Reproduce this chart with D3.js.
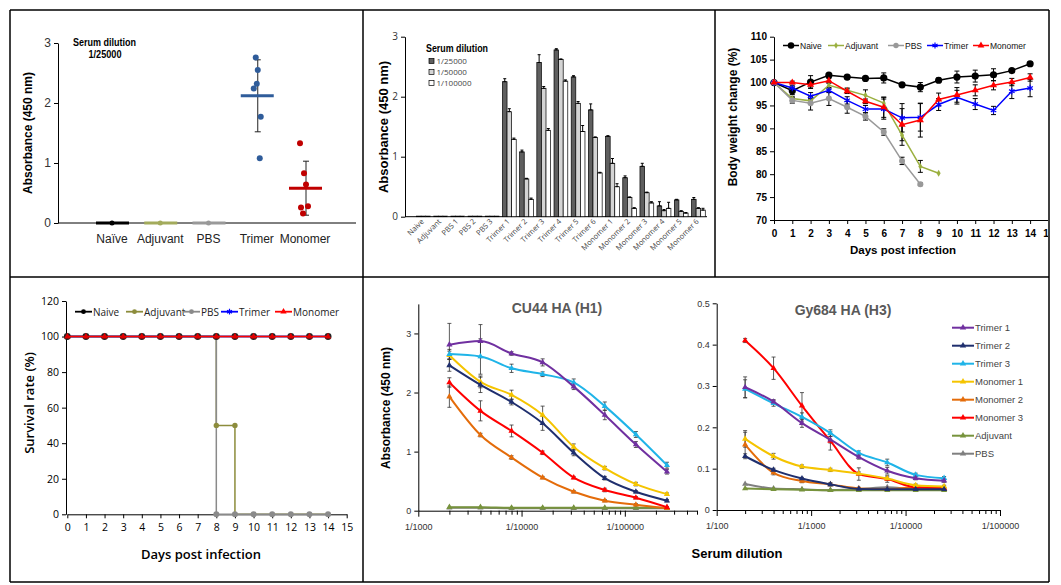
<!DOCTYPE html>
<html><head><meta charset="utf-8">
<script src="https://cdn.jsdelivr.net/npm/d3@7"></script>
<style>body{margin:0;background:#fff}svg{display:block}</style>
</head><body><svg id="c" width="1061" height="585"></svg>
<script>
// ================= DATA =================
// Panel A : dot plot, serum dilution 1/25000
const groupsA = ["Naïve", "Adjuvant", "PBS", "Trimer", "Monomer"];
const meansA = [0, 0, 0, 2.12, 0.58];
const sdA = [0, 0, 0, 0.6, 0.45];
const trimerPointsA = [2.76, 2.55, 2.32, 2.24, 1.77, 1.08];
const monomerPointsA = [1.33, 0.83, 0.64, 0.28, 0.26, 0.16];

// Panel B : grouped bars
const catsB = ["Naive", "Adjuvant", "PBS 1", "PBS 2", "PBS 3", "Trimer 1", "Trimer 2", "Trimer 3", "Trimer 4", "Trimer 5", "Trimer 6", "Monomer 1", "Monomer 2", "Monomer 3", "Monomer 4", "Monomer 5", "Monomer 6"];
const dilLabelsB = ["1/25000", "1/50000", "1/100000"];
const d25000 = [0.01, 0.01, 0.01, 0.01, 0.01, 2.25, 1.08, 2.57, 2.78, 2.33, 1.78, 1.34, 0.65, 0.84, 0.18, 0.28, 0.29];
const d50000 = [0.01, 0.01, 0.01, 0.01, 0.01, 1.75, 0.63, 2.14, 2.62, 1.89, 1.32, 0.89, 0.32, 0.40, 0.10, 0.09, 0.14];
const d100000 = [0.01, 0.01, 0.01, 0.01, 0.01, 1.29, 0.29, 1.44, 2.26, 1.42, 0.73, 0.50, 0.14, 0.23, 0.14, 0.06, 0.11];
const e25000 = [0, 0, 0, 0, 0, 0.05, 0.03, 0.13, 0.02, 0.02, 0.1, 0.01, 0.03, 0.05, 0.07, 0.01, 0.03];
const e50000 = [0, 0, 0, 0, 0, 0.05, 0.01, 0.03, 0.01, 0.03, 0.01, 0.08, 0.01, 0.01, 0.02, 0.01, 0.01];
const e100000 = [0, 0, 0, 0, 0, 0.02, 0.02, 0.03, 0.02, 0.1, 0.01, 0.05, 0.01, 0.02, 0.1, 0.01, 0.03];

// Panel C : body weight
const daysC = [0, 1, 2, 3, 4, 5, 6, 7, 8, 9, 10, 11, 12, 13, 14];
const naiveW = [100, 98.2, 100.1, 101.6, 101.2, 100.9, 101.0, 99.5, 99.0, 100.5, 101.2, 101.4, 101.7, 102.6, 104.1];
const naiveWErr = [0, 0.8, 1.4, 0.4, 0.4, 0.4, 1.1, 0.4, 1.0, 0.5, 1.3, 1.3, 1.3, 0.4, 0.4];
const adjuvantW = [100, 96.5, 96.0, 99.4, 98.3, 97.2, 95.5, 88.5, 81.7, 80.2];
const adjuvantWErr = [0, 0.5, 0.5, 0.5, 0.5, 1.2, 1.3, 2.2, 1.3, 0];
const pbsW = [100, 96.1, 95.5, 96.5, 94.6, 92.6, 89.2, 82.9, 77.8];
const pbsWErr = [0, 0.6, 1.5, 1.5, 1.3, 0.8, 0.7, 0.8, 0.3];
const trimerW = [100, 98.8, 97.0, 98.3, 96.1, 94.2, 94.2, 92.3, 92.4, 95.2, 96.8, 95.3, 93.9, 98.1, 98.8];
const trimerWErr = [0, 0.5, 0.8, 0.5, 0.8, 0.8, 2.2, 3.1, 3.0, 1.3, 1.5, 1.2, 0.9, 1.6, 1.9];
const monomerW = [100, 100, 99.5, 100.4, 98.1, 95.9, 94.6, 90.8, 91.8, 96.3, 97.3, 98.3, 99.4, 100.1, 101.1];
const monomerWErr = [0, 0.3, 0.5, 0.5, 0.5, 0.5, 2.2, 3.5, 3.7, 1.4, 1.6, 1.2, 1.0, 0.8, 0.8];

// Panel D : survival
const survDays = [0, 1, 2, 3, 4, 5, 6, 7, 8, 9, 10, 11, 12, 13, 14];
const naiveS = [100, 100, 100, 100, 100, 100, 100, 100, 100, 100, 100, 100, 100, 100, 100];
const adjDaysS = [0, 1, 2, 3, 4, 5, 6, 7, 8, 8, 9, 9, 10, 11, 12, 13, 14];
const adjuvantS = [100, 100, 100, 100, 100, 100, 100, 100, 100, 50, 50, 0, 0, 0, 0, 0, 0];
const pbsDaysS = [0, 1, 2, 3, 4, 5, 6, 7, 8, 8, 9, 10, 11, 12, 13, 14];
const pbsS = [100, 100, 100, 100, 100, 100, 100, 100, 100, 0, 0, 0, 0, 0, 0, 0];
const trimerS = [100, 100, 100, 100, 100, 100, 100, 100, 100, 100, 100, 100, 100, 100, 100];
const monomerS = [100, 100, 100, 100, 100, 100, 100, 100, 100, 100, 100, 100, 100, 100, 100];

// Panel E/F : ELISA titration curves
const seriesNames = ["Trimer 1", "Trimer 2", "Trimer 3", "Monomer 1", "Monomer 2", "Monomer 3", "Adjuvant", "PBS"];
const dilCU44 = [2000, 4000, 8000, 16000, 32000, 64000, 128000, 256000];
const cu44 = {
  "Trimer 1": [2.81, 2.87, 2.66, 2.51, 2.10, 1.62, 1.12, 0.66],
  "Trimer 2": [2.46, 2.13, 1.84, 1.48, 0.98, 0.55, 0.32, 0.17],
  "Trimer 3": [2.65, 2.61, 2.41, 2.31, 2.17, 1.77, 1.29, 0.77],
  "Monomer 1": [2.63, 2.18, 1.96, 1.62, 1.08, 0.72, 0.45, 0.28],
  "Monomer 2": [1.93, 1.28, 0.90, 0.56, 0.32, 0.17, 0.10, 0.04],
  "Monomer 3": [2.17, 1.69, 1.35, 0.98, 0.56, 0.35, 0.22, 0.06],
  "Adjuvant": [0.06, 0.06, 0.05, 0.05, 0.05, 0.05, 0.05, 0.05],
  "PBS": [0.05, 0.05, 0.04, 0.04, 0.04, 0.04, 0.04, 0.04]
};
const cu44Err = {
  "Trimer 1": [0.36, 0.28, 0.03, 0.06, 0.05, 0.08, 0.05, 0.04],
  "Trimer 2": [0.1, 0.13, 0.05, 0.12, 0.05, 0.03, 0.02, 0.02],
  "Trimer 3": [0.08, 0.3, 0.07, 0.04, 0.06, 0.07, 0.05, 0.05],
  "Monomer 1": [0.07, 0.1, 0.08, 0.15, 0.05, 0.03, 0.03, 0.02],
  "Monomer 2": [0.18, 0.03, 0.03, 0.02, 0.02, 0.02, 0.02, 0.01],
  "Monomer 3": [0.08, 0.17, 0.1, 0.03, 0.02, 0.03, 0.02, 0.01],
  "Adjuvant": [0, 0, 0, 0, 0, 0, 0, 0],
  "PBS": [0, 0, 0, 0, 0, 0, 0, 0]
};
const dilGy684 = [200, 400, 800, 1600, 3200, 6400, 12800, 25600];
const gy684 = {
  "Trimer 1": [0.297, 0.262, 0.210, 0.170, 0.128, 0.095, 0.077, 0.071],
  "Trimer 2": [0.130, 0.097, 0.076, 0.062, 0.051, 0.050, 0.050, 0.050],
  "Trimer 3": [0.293, 0.258, 0.225, 0.186, 0.138, 0.115, 0.085, 0.077],
  "Monomer 1": [0.172, 0.130, 0.105, 0.097, 0.088, 0.076, 0.060, 0.057],
  "Monomer 2": [0.158, 0.090, 0.070, 0.062, 0.052, 0.050, 0.055, 0.050],
  "Monomer 3": [0.410, 0.343, 0.252, 0.167, 0.087, 0.075, 0.055, 0.053],
  "Adjuvant": [0.052, 0.050, 0.049, 0.048, 0.048, 0.048, 0.048, 0.048],
  "PBS": [0.063, 0.052, 0.050, 0.048, 0.050, 0.055, 0.050, 0.050]
};
const gy684Err = {
  "Trimer 1": [0.025, 0.005, 0.01, 0.008, 0.005, 0.008, 0.004, 0.004],
  "Trimer 2": [0.006, 0.004, 0.003, 0.003, 0.002, 0.002, 0.002, 0.002],
  "Trimer 3": [0.022, 0.007, 0.01, 0.008, 0.005, 0.008, 0.004, 0.004],
  "Monomer 1": [0.02, 0.007, 0.004, 0.004, 0.004, 0.004, 0.003, 0.003],
  "Monomer 2": [0.03, 0.005, 0.004, 0.004, 0.003, 0.003, 0.003, 0.003],
  "Monomer 3": [0.005, 0.027, 0.032, 0.022, 0.015, 0.008, 0.005, 0.005],
  "Adjuvant": [0, 0, 0, 0, 0, 0, 0, 0],
  "PBS": [0, 0, 0, 0, 0, 0, 0, 0]
};
const elisaColors = ["#7030a0", "#1f2f6e", "#1fb4e8", "#f5c400", "#e46c0a", "#ff0000", "#77933c", "#7f7f7f"];

// ================= DRAWING =================
const SANS = "'Liberation Sans', Arial, sans-serif";
const OPEN = "'Open Sans', 'Noto Sans', sans-serif";
const svg = d3.select("#c");
svg.append("rect").attr("width", 1061).attr("height", 585).attr("fill", "#fff");

function styleAxis(g, fam, size, weight, color) {
  g.attr("font-family", fam).attr("font-size", size).attr("font-weight", weight);
  g.select(".domain").attr("stroke", "#000").attr("stroke-width", 1);
  g.selectAll(".tick line").attr("stroke", "#000");
  g.selectAll(".tick text").attr("fill", color || "#000");
}
function txt(g, x, y, s, o) {
  o = o || {};
  const t = g.append("text").attr("x", x).attr("y", y).text(s)
    .attr("font-family", o.fam || SANS).attr("font-size", o.size || 12)
    .attr("font-weight", o.weight || "normal").attr("fill", o.fill || "#000")
    .attr("text-anchor", o.anchor || "start");
  if (o.rot) t.attr("transform", `rotate(${o.rot},${x},${y})`);
  if (o.len) t.attr("textLength", o.len).attr("lengthAdjust", "spacingAndGlyphs");
  return t;
}
function errBar(g, x, y0, y1, cap, color, w) {
  g.append("line").attr("x1", x).attr("x2", x).attr("y1", y0).attr("y2", y1).attr("stroke", color).attr("stroke-width", w || 1);
  g.append("line").attr("x1", x - cap).attr("x2", x + cap).attr("y1", y0).attr("y2", y0).attr("stroke", color).attr("stroke-width", w || 1);
  g.append("line").attr("x1", x - cap).attr("x2", x + cap).attr("y1", y1).attr("y2", y1).attr("stroke", color).attr("stroke-width", w || 1);
}

// ---------- Panel A ----------
(function () {
  const g = svg.append("g");
  const x = d3.scalePoint().domain(groupsA).range([112, 305]);
  const y = d3.scaleLinear().domain([0, 3]).range([223, 43]);
  const ya = g.append("g").attr("transform", "translate(58,0)")
    .call(d3.axisLeft(y).tickValues([0, 1, 2, 3]).tickSize(4).tickSizeOuter(0).tickFormat(d3.format("d")));
  styleAxis(ya, SANS, 12, "normal", "#333");
  g.append("line").attr("x1", 58).attr("x2", 356).attr("y1", y(0)).attr("y2", y(0)).attr("stroke", "#000");
  groupsA.forEach(d => txt(g, x(d), 243, d, { anchor: "middle", size: 12, fill: "#222" }));
  const cols = ["#000", "#a3ab5c", "#999999", "#2f5c9a", "#c00000"];
  groupsA.forEach((d, i) => {
    if (sdA[i] > 0) errBar(g, x(d) + 1, y(meansA[i] - sdA[i]), y(meansA[i] + sdA[i]), 3, "#222", 1);
    g.append("line").attr("x1", x(d) - 16).attr("x2", x(d) + 17).attr("y1", y(meansA[i])).attr("y2", y(meansA[i]))
      .attr("stroke", cols[i]).attr("stroke-width", 3);
  });
  // zero-valued groups: markers on the line
  [0, 1, 2].forEach(i => {
    g.append("circle").attr("cx", x(groupsA[i])).attr("cy", y(meansA[i])).attr("r", 2.5).attr("fill", cols[i]);
  });
  const jit = [-1, 1, 0, -3, 4, 3];
  const jitM = [-5, -1, 1, 3, -4, -2];
  trimerPointsA.forEach((v, i) => g.append("circle").attr("cx", x("Trimer") + jit[i]).attr("cy", y(v)).attr("r", 3).attr("fill", cols[3]));
  monomerPointsA.forEach((v, i) => g.append("circle").attr("cx", x("Monomer") + jitM[i]).attr("cy", y(v)).attr("r", 3).attr("fill", cols[4]));
  txt(g, 32, 133, "Absorbance (450 nm)", { anchor: "middle", weight: "bold", size: 12, rot: -90 });
  txt(g, 73, 46, "Serum dilution", { weight: "bold", size: 11, len: 63 });
  txt(g, 105, 58, "1/25000", { weight: "bold", size: 11, anchor: "middle", len: 33 });
})();

// ---------- Panel B ----------
(function () {
  const g = svg.append("g");
  const x = d3.scaleBand().domain(catsB).range([414.8, 707]).paddingInner(0.2).paddingOuter(0.1);
  const sub = d3.scaleBand().domain([0, 1, 2]).range([0, x.bandwidth()]);
  const y = d3.scaleLinear().domain([0, 3]).range([216.7, 36.7]);
  const ya = g.append("g").attr("transform", "translate(405,0)")
    .call(d3.axisLeft(y).tickValues([0, 1, 2, 3]).tickSize(4).tickSizeOuter(0).tickFormat(d3.format("d")));
  styleAxis(ya, OPEN, 10, "normal", "#333");
  g.append("line").attr("x1", 405).attr("x2", 707).attr("y1", y(0)).attr("y2", y(0)).attr("stroke", "#000");
  const vals = [d25000, d50000, d100000];
  const errs = [e25000, e50000, e100000];
  const fills = ["#5f5f5f", "#d4d4d4", "#ffffff"];
  catsB.forEach((c, i) => {
    [0, 1, 2].forEach(k => {
      const v = vals[k][i];
      g.append("rect").attr("x", x(c) + sub(k)).attr("width", sub.bandwidth()).attr("y", y(v)).attr("height", y(0) - y(v))
        .attr("fill", fills[k]).attr("stroke", "#000").attr("stroke-width", 0.7);
      if (errs[k][i] > 0) errBar(g, x(c) + sub(k) + sub.bandwidth() / 2, y(v), y(v + errs[k][i]), 1.5, "#000", 1);
    });
    const cx = x(c) + x.bandwidth() / 2 + 1;
    txt(g, cx, 222, c, { anchor: "end", size: 7.5, fam: OPEN, fill: "#444", rot: -45 });
  });
  txt(g, 388, 127, "Absorbance (450 nm)", { anchor: "middle", weight: "bold", size: 13, rot: -90 });
  txt(g, 426, 52, "Serum dilution", { weight: "bold", size: 11, len: 62 });
  dilLabelsB.forEach((d, k) => {
    const yy = 61 + k * 11;
    g.append("rect").attr("x", 429).attr("y", yy - 2.5).attr("width", 5).attr("height", 5).attr("fill", fills[k]).attr("stroke", "#000").attr("stroke-width", 0.7);
    txt(g, 436.5, yy + 3, d, { size: 8, fam: OPEN, fill: "#444" });
  });
})();

// ---------- markers ----------
function marker(g, type, x, y, color, size) {
  const s = size || 1;
  if (type === "circle") g.append("circle").attr("cx", x).attr("cy", y).attr("r", 3.6 * s).attr("fill", color);
  else if (type === "dot") g.append("circle").attr("cx", x).attr("cy", y).attr("r", 3 * s).attr("fill", color);
  else if (type === "diamond") g.append("path").attr("d", d3.symbol(d3.symbolDiamond, 14 * s)()).attr("transform", `translate(${x},${y})`).attr("fill", color);
  else if (type === "tri") g.append("path").attr("d", d3.symbol(d3.symbolTriangle, 22 * s)()).attr("transform", `translate(${x},${y})`).attr("fill", color);
  else if (type === "ast") g.append("path").attr("d", d3.symbol(d3.symbolAsterisk, 28 * s)()).attr("transform", `translate(${x},${y})`).attr("fill", "none").attr("stroke", color).attr("stroke-width", 1.2);
}

// ---------- Panel C ----------
(function () {
  const g = svg.append("g");
  const defs = svg.append("defs");
  defs.append("clipPath").attr("id", "clipC").append("rect").attr("x", 716).attr("y", 11).attr("width", 332).attr("height", 265);
  const gc = g.append("g").attr("clip-path", "url(#clipC)");
  const x = d3.scaleLinear().domain([0, 15]).range([774, 1048.4]);
  const y = d3.scaleLinear().domain([70, 110]).range([220, 36.7]);
  const ya = gc.append("g").attr("transform", "translate(774,0)")
    .call(d3.axisLeft(y).tickValues(d3.range(70, 111, 5)).tickSize(4).tickSizeOuter(0));
  styleAxis(ya, SANS, 10, "bold", "#000");
  const xa = gc.append("g").attr("transform", `translate(0,${y(70)})`)
    .call(d3.axisBottom(x).tickValues(d3.range(0, 16)).tickSize(4).tickSizeOuter(0));
  styleAxis(xa, SANS, 10, "bold", "#000");
  xa.selectAll(".tick text").attr("dy", "0.95em");
  const series = [
    { v: naiveW, e: naiveWErr, c: "#000", m: "circle" },
    { v: adjuvantW, e: adjuvantWErr, c: "#9bb040", m: "diamond" },
    { v: pbsW, e: pbsWErr, c: "#999999", m: "dot" },
    { v: trimerW, e: trimerWErr, c: "#0000ff", m: "ast" },
    { v: monomerW, e: monomerWErr, c: "#ff0000", m: "tri" }
  ];
  const line = d3.line().x((d, i) => x(daysC[i])).y(d => y(d));
  series.forEach(s => s.v.forEach((v, i) => { if (s.e[i] > 0) errBar(gc, x(daysC[i]), y(v - s.e[i]), y(v + s.e[i]), 2.5, "#000", 1); }));
  series.forEach(s => {
    gc.append("path").datum(s.v).attr("d", line).attr("fill", "none").attr("stroke", s.c).attr("stroke-width", 1.5);
    s.v.forEach((v, i) => marker(gc, s.m, x(daysC[i]), y(v), s.c, 1));
  });
  // legend
  const names = ["Naive", "Adjuvant", "PBS", "Trimer", "Monomer"];
  const lx = [783, 828, 888, 927, 973];
  names.forEach((n, i) => {
    const s = series[i];
    g.append("line").attr("x1", lx[i]).attr("x2", lx[i] + 16).attr("y1", 45.5).attr("y2", 45.5).attr("stroke", s.c).attr("stroke-width", 1.5);
    marker(g, s.m, lx[i] + 8, 45.5, s.c, 0.9);
    txt(g, lx[i] + 17, 49, n, { size: 8.5, fill: "#111" });
  });
  txt(g, 737, 117, "Body weight change (%)", { anchor: "middle", weight: "bold", size: 12, rot: -90 });
  txt(g, 903, 254, "Days post infection", { anchor: "middle", weight: "bold", size: 11.5 });
})();

// ---------- Panel D ----------
(function () {
  const g = svg.append("g");
  const x = d3.scaleLinear().domain([0, 15]).range([67.3, 346.7]);
  const y = d3.scaleLinear().domain([0, 120]).range([514.3, 301]);
  const ya = g.append("g").attr("transform", "translate(66,0)")
    .call(d3.axisLeft(y).tickValues(d3.range(0, 121, 20)).tickSize(4).tickSizeOuter(0));
  styleAxis(ya, OPEN, 10.5, "normal", "#000");
  const xa = g.append("g").attr("transform", `translate(0,${y(0)})`)
    .call(d3.axisBottom(x).tickValues(d3.range(0, 16)).tickSize(4).tickSizeOuter(0));
  styleAxis(xa, OPEN, 10.5, "normal", "#000");
  xa.selectAll(".tick text").attr("dy", "0.95em");
  const line = d3.line().x(d => x(d[0])).y(d => y(d[1]));
  const zip = (a, b) => a.map((d, i) => [d, b[i]]);
  const adjC = "#8c8c3c", pbsC = "#8a8a8a";
  g.append("path").datum(zip(adjDaysS, adjuvantS)).attr("d", line).attr("fill", "none").attr("stroke", adjC).attr("stroke-width", 1.5);
  g.append("path").datum(zip(pbsDaysS, pbsS)).attr("d", line).attr("fill", "none").attr("stroke", pbsC).attr("stroke-width", 1.5);
  zip(adjDaysS, adjuvantS).forEach(d => { if (d[1] === 50) marker(g, "dot", x(d[0]), y(d[1]), adjC, 0.9); });
  zip(pbsDaysS, pbsS).forEach(d => { if (d[1] === 0) marker(g, "dot", x(d[0]), y(d[1]), pbsC, 1); });
  g.append("path").datum(zip(survDays, naiveS)).attr("d", line).attr("fill", "none").attr("stroke", "#000").attr("stroke-width", 1.5);
  g.append("path").datum(zip(survDays, trimerS)).attr("d", line).attr("fill", "none").attr("stroke", "#0000ff").attr("stroke-width", 1.5);
  survDays.forEach((d, i) => marker(g, "dot", x(d), y(naiveS[i]), "#222", 1.15));
  g.append("path").datum(zip(survDays, monomerS)).attr("d", line).attr("fill", "none").attr("stroke", "#ff0000").attr("stroke-width", 1.5);
  survDays.forEach((d, i) => marker(g, "tri", x(d), y(monomerS[i]), "#e00000", 0.8));
  // legend
  const names = ["Naive", "Adjuvant", "PBS", "Trimer", "Monomer"];
  const cols = ["#000", adjC, pbsC, "#0000ff", "#ff0000"];
  const ms = ["dot", "dot", "dot", "ast", "tri"];
  const lx = [75, 126, 183, 221, 275];
  names.forEach((n, i) => {
    g.append("line").attr("x1", lx[i]).attr("x2", lx[i] + 17).attr("y1", 311.7).attr("y2", 311.7).attr("stroke", cols[i]).attr("stroke-width", 1.8);
    marker(g, ms[i], lx[i] + 8.5, 311.7, cols[i], 0.8);
    txt(g, lx[i] + 18, 315.5, n, { size: 10, fam: OPEN, fill: "#222" });
  });
  txt(g, 34, 403, "Survival rate (%)", { anchor: "middle", weight: "600", size: 13, fam: OPEN, rot: -90 });
  txt(g, 201, 559, "Days post infection", { anchor: "middle", weight: "600", size: 13, fam: OPEN });
})();

// ---------- Panels E & F ----------
function elisa(opt) {
  const g = svg.append("g");
  const x = d3.scaleLog().domain(opt.xdom).range(opt.xr);
  const y = d3.scaleLinear().domain(opt.ydom).range(opt.yr);
  const ya = g.append("g").attr("transform", `translate(${opt.xr[0]},0)`)
    .call(d3.axisLeft(y).tickValues(opt.yticks).tickSize(4).tickSizeOuter(0).tickFormat(opt.yfmt));
  styleAxis(ya, SANS, 9, "normal", "#333");
  const lo = Math.floor(Math.log10(opt.xdom[0])), hi = Math.ceil(Math.log10(opt.xdom[1]));
  const minor = [], major = [];
  for (let k = lo; k <= hi; k++) for (let m = 1; m <= 9; m++) {
    const v = m * Math.pow(10, k);
    if (v >= opt.xdom[0] * 0.999 && v <= opt.xdom[1] * 1.001) (m === 1 ? major : minor).push(v);
  }
  const xa = g.append("g").attr("transform", `translate(0,${opt.yr[0]})`)
    .call(d3.axisBottom(x).tickValues(minor).tickSize(4).tickSizeOuter(0).tickFormat(""));
  styleAxis(xa, SANS, 9, "normal", "#333");
  const xb = g.append("g").attr("transform", `translate(0,${opt.yr[0]})`)
    .call(d3.axisBottom(x).tickValues(major).tickSize(6).tickSizeOuter(0).tickFormat(d => "1/" + d));
  styleAxis(xb, SANS, 9, "normal", "#333");
  xb.select(".domain").remove();
  xb.selectAll(".tick text").attr("dy", "1.1em");
  const line = d3.line().x((d, i) => x(opt.dil[i])).y(d => y(d)).curve(d3.curveMonotoneX);
  const order = [7, 6, 4, 5, 3, 1, 2, 0];
  order.forEach(k => {
    const n = seriesNames[k];
    opt.data[n].forEach((v, i) => { const e = opt.err[n][i]; if (e > 0) errBar(g, x(opt.dil[i]), y(v - e), y(v + e), 2, "#333", 0.8); });
  });
  order.forEach(k => {
    const n = seriesNames[k];
    g.append("path").datum(opt.data[n]).attr("d", line).attr("fill", "none").attr("stroke", elisaColors[k]).attr("stroke-width", 2);
    opt.data[n].forEach((v, i) => marker(g, "tri", x(opt.dil[i]), y(v), elisaColors[k], 0.75));
  });
  txt(g, opt.title[0], opt.title[1], opt.title[2], { anchor: "middle", weight: "bold", size: 14, fill: "#595959" });
  return g;
}
const gE = elisa({
  xdom: [1000, 500000], xr: [418.3, 697], ydom: [0, 3.5], yr: [510.7, 303.9], yticks: [0, 1, 2, 3], yfmt: d3.format("d"),
  dil: dilCU44, data: cu44, err: cu44Err, title: [557, 313, "CU44 HA (H1)"]
});
txt(gE, 390, 408, "Absorbance (450 nm)", { anchor: "middle", weight: "bold", size: 12, rot: -90 });
const gF = elisa({
  xdom: [100, 100000], xr: [716.7, 1000], ydom: [0, 0.5], yr: [510, 303.3], yticks: [0, 0.1, 0.2, 0.3, 0.4, 0.5], yfmt: d => d === 0 ? "0" : d3.format(".1f")(d),
  dil: dilGy684, data: gy684, err: gy684Err, title: [843, 315, "Gy684 HA (H3)"]
});
seriesNames.forEach((n, k) => {
  const yy = 327.7 + k * 18;
  gF.append("line").attr("x1", 952).attr("x2", 974).attr("y1", yy).attr("y2", yy).attr("stroke", elisaColors[k]).attr("stroke-width", 2);
  marker(gF, "tri", 963, yy, elisaColors[k], 0.8);
  txt(gF, 975, yy + 3.5, n, { size: 9.5, fill: "#444" });
});
txt(svg, 737, 558, "Serum dilution", { anchor: "middle", weight: "bold", size: 13 });

// ---------- frame ----------
const fr = svg.append("g").attr("stroke", "#000").attr("stroke-width", 1.5);
[[10, 10, 1049, 10], [10, 277, 1049, 277], [10, 582, 1049, 582], [10, 10, 10, 582], [1049, 10, 1049, 582], [363, 10, 363, 582], [715, 10, 715, 277]]
  .forEach(l => fr.append("line").attr("x1", l[0]).attr("y1", l[1]).attr("x2", l[2]).attr("y2", l[3]));
</script></body></html>
